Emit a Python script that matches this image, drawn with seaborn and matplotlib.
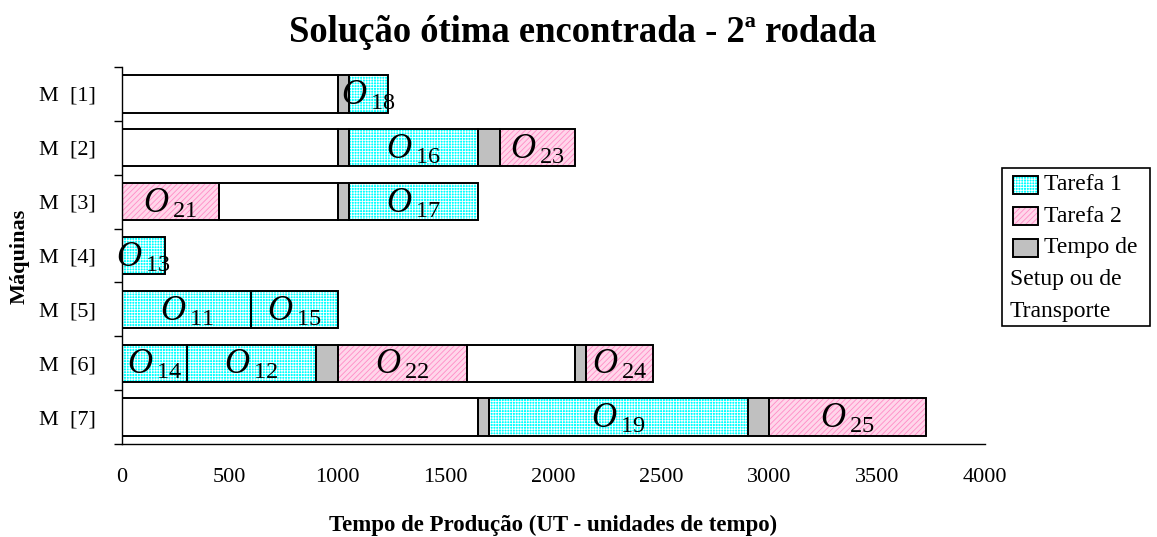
import numpy as np
import pandas as pd
import seaborn as sns
import matplotlib.pyplot as plt
from matplotlib.patches import Rectangle

machines = ['M  [1]', 'M  [2]', 'M  [3]', 'M  [4]', 'M  [5]', 'M  [6]', 'M  [7]']

# one entry per bar segment
seg_machine = [0, 0, 0,
               1, 1, 1, 1, 1,
               2, 2, 2, 2,
               3,
               4, 4,
               5, 5, 5, 5, 5, 5, 5,
               6, 6, 6, 6, 6]
seg_start = [0, 1000, 1050,
             0, 1000, 1050, 1650, 1750,
             0, 450, 1000, 1050,
             0,
             0, 600,
             0, 300, 900, 1000, 1600, 2100, 2150,
             0, 1650, 1700, 2900, 3000]
seg_end = [1000, 1050, 1235,
           1000, 1050, 1650, 1750, 2100,
           450, 1000, 1050, 1650,
           200,
           600, 1000,
           300, 900, 1000, 1600, 2100, 2150, 2460,
           1650, 1700, 2900, 3000, 3725]
seg_kind = ['idle', 'setup', 't1',
            'idle', 'setup', 't1', 'setup', 't2',
            't2', 'idle', 'setup', 't1',
            't1',
            't1', 't1',
            't1', 't1', 'setup', 't2', 'idle', 'setup', 't2',
            'idle', 'setup', 't1', 'setup', 't2']
seg_label = ['', '', '18',
             '', '', '16', '', '23',
             '21', '', '', '17',
             '13',
             '11', '15',
             '14', '12', '', '22', '', '', '24',
             '', '', '19', '', '25']

legend_labels = ['Tarefa 1', 'Tarefa 2', 'Tempo de']
legend_extra = ['Setup ou de', 'Transporte']

df = pd.DataFrame({'machine': seg_machine, 'start': seg_start, 'end': seg_end,
                   'kind': seg_kind, 'label': seg_label})
df['width'] = df['end'] - df['start']

# face colour, hatch colour, hatch pattern
styles = {
    't1': ('#00FFFF', 'white', '++++++'),
    't2': ('#FFD6EA', '#FF8CC6', '//////'),
    'setup': ('#C0C0C0', None, None),
    'idle': ('white', None, None),
}

sns.set_theme(style='white')
plt.rcParams['font.family'] = ['Liberation Serif', 'DejaVu Serif']
plt.rcParams['mathtext.fontset'] = 'custom'
plt.rcParams['mathtext.it'] = 'Liberation Serif:italic'
plt.rcParams['mathtext.rm'] = 'Liberation Serif'
plt.rcParams['hatch.linewidth'] = 0.6
for key in ['text.color', 'axes.labelcolor', 'xtick.color', 'ytick.color']:
    plt.rcParams[key] = 'black'

W, H = 1157, 537
fig = plt.figure(figsize=(W / 100, H / 100), dpi=100)
ax = fig.add_axes([122 / W, 1 - 444 / H, (985 - 122) / W, (444 - 67) / H])

bar_h = 0.69
for kind, grp in df.groupby('kind'):
    face, hcol, hatch = styles[kind]
    if hatch:
        ax.barh(grp['machine'], grp['width'], left=grp['start'], height=bar_h,
                color=face, edgecolor=hcol, hatch=hatch, linewidth=0)
    else:
        ax.barh(grp['machine'], grp['width'], left=grp['start'], height=bar_h,
                color=face, linewidth=0)
ax.barh(df['machine'], df['width'], left=df['start'], height=bar_h,
        fill=False, edgecolor='black', linewidth=1.4)

for _, r in df[df['label'] != ''].iterrows():
    xc = (r['start'] + r['end']) / 2
    ax.annotate(r'$O\,{}_{%s}$' % r['label'], (xc, r['machine']),
                xytext=(0, -8), textcoords='offset points',
                ha='center', va='baseline', fontsize=25, color='black')

ax.set_xlim(0, 4000)
ax.set_ylim(6.5, -0.5)
ax.set_xticks(np.arange(0, 4001, 500))
ax.set_yticks(range(len(machines)), machines)
ax.set_yticks(np.arange(-0.5, 7, 1), minor=True)
ax.tick_params(axis='x', length=6, width=1, direction='out', pad=11, labelsize=16)
ax.tick_params(axis='y', which='major', length=0, pad=19, labelsize=16)
ax.tick_params(axis='y', which='minor', length=6, width=1, direction='out', left=True)
sns.despine(ax=ax)
for s in ['left', 'bottom']:
    ax.spines[s].set_color('black')
    ax.spines[s].set_linewidth(1)

fig.text(583 / W, 1 - 42 / H, 'Solução ótima encontrada - 2ª rodada',
         ha='center', va='baseline', fontsize=26.4, fontweight='bold')
fig.text(553 / W, 1 - 531 / H, 'Tempo de Produção (UT - unidades de tempo)',
         ha='center', va='baseline', fontsize=16.5, fontweight='bold')
fig.text(20 / W, 1 - 256 / H, 'Máquinas', rotation=90,
         ha='center', va='center', fontsize=16, fontweight='bold')

# legend drawn by hand, in pixel positions
def px(x, y):
    return x / W, 1 - y / H

box_l, box_t, box_r, box_b = 1002, 168, 1150, 326
fig.add_artist(Rectangle(px(box_l, box_b), (box_r - box_l) / W, (box_b - box_t) / H,
                         transform=fig.transFigure, fill=False, edgecolor='black', linewidth=1.2))
row_y = [185, 216, 248]
for kind, lab, yy in zip(['t1', 't2', 'setup'], legend_labels, row_y):
    face, hcol, hatch = styles[kind]
    xy = px(1013, yy + 9)
    fig.add_artist(Rectangle(xy, 25 / W, 18 / H, transform=fig.transFigure,
                             facecolor=face, edgecolor=hcol if hatch else face,
                             hatch=hatch, linewidth=0))
    fig.add_artist(Rectangle(xy, 25 / W, 18 / H, transform=fig.transFigure,
                             fill=False, edgecolor='black', linewidth=1.4))
    fig.text(1044 / W, 1 - yy / H, lab, ha='left', va='center', fontsize=17)
for lab, yy in zip(legend_extra, [280, 311]):
    fig.text(1010 / W, 1 - yy / H, lab, ha='left', va='center', fontsize=17)

fig.savefig('out.png', dpi=100)
